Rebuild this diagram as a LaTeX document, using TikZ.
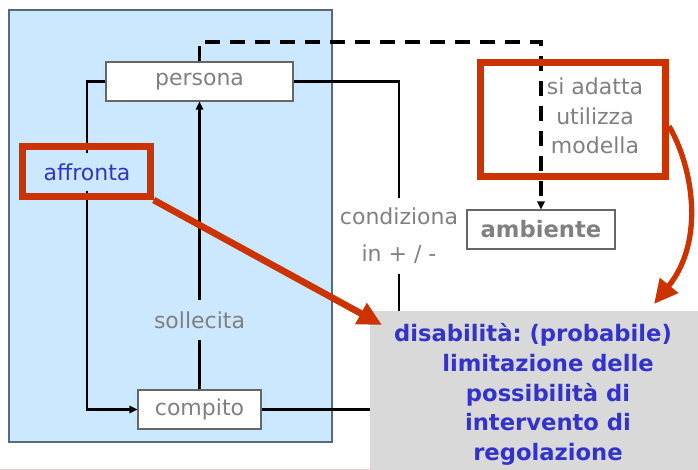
\documentclass[tikz,border=0pt]{standalone}
\usepackage{fontspec}
\setmainfont{DejaVu Sans}
\usetikzlibrary{arrows.meta}
\definecolor{skyfill}{RGB}{204,232,255}
\definecolor{frameedge}{RGB}{90,105,120}
\definecolor{alertred}{RGB}{204,51,0}
\definecolor{inkblue}{RGB}{51,51,204}
\definecolor{labelgray}{RGB}{128,128,128}
\definecolor{panelgray}{RGB}{217,217,217}
\definecolor{rulepink}{RGB}{232,205,205}
\newcommand{\txtsize}{\fontsize{16.5}{22.5}\selectfont}
\frenchspacing

\begin{document}
\begin{tikzpicture}[x=0.75pt,y=-0.75pt,
  box/.style={draw=black!60,line width=0.8pt,fill=white,inner sep=0pt,
    minimum height=29.25pt,text=labelgray,font=\txtsize},
  tag/.style={inner sep=0pt,font=\txtsize,text=labelgray},
  link/.style={line width=1.6pt},
  arr/.style={-{Triangle[length=6pt,width=5.5pt]}},
  dashlink/.style={line width=2.4pt,dash pattern=on 11.25pt off 7.5pt},
  redframe/.style={draw=alertred,line width=5pt,inner sep=0pt},
  redarrow/.style={draw=alertred,line width=5pt,-{Triangle[length=18pt,width=17pt]}}]
  \useasboundingbox (0,0) rectangle (698,470);
  \draw[fill=skyfill,draw=frameedge,line width=0.8pt] (9,10) rectangle (332,442);
  \draw[rulepink,line width=0.8pt] (0,469.5) -- (698,469.5);

  \node[box,minimum width=140.25pt] (persona) at (199.5,81.5) {persona};
  \node[box,minimum width=92.25pt] (compito) at (199.5,409.5) {compito};
  \node[box,minimum width=111pt,font=\fontsize{17}{22.5}\selectfont\bfseries] (ambiente) at (541,229.5) {ambiente};
  \node[tag,text=inkblue,minimum height=28.5pt] (affronta) at (87,172) {affronta};
  \node[tag,minimum height=30pt] (sollecita) at (199.5,320) {sollecita};
  \node[tag,align=center,minimum height=57pt,font=\fontsize{16.5}{27.75}\selectfont]
    (condiziona) at (399,236) {condiziona\\in + / -};
  \node[tag,align=center,font=\fontsize{16.5}{22}\selectfont]
    (adatta) at (595,116) {si adatta\\utilizza\\modella};
  \coordinate (bend) at (541,42);

  \draw[link] (persona.west) -| (affronta.north);
  \draw[link,arr] (affronta.south) |- (compito.west);
  \draw[link] (compito.north) -- (sollecita.south);
  \draw[link,arr] (sollecita.north) -- (persona.south);
  \draw[link] (compito.east) -| (condiziona.south);
  \draw[link] (condiziona.north) |- (persona.east);
  \draw[dashlink,arr] (persona.north) |- (bend) -- (ambiente.north);

  \node[redframe,minimum width=96.3pt,minimum height=37.8pt] (affrontaframe) at (86.5,171.5) {};
  \node[redframe,minimum width=139pt,minimum height=85.8pt] (adattaframe) at (573,119.5) {};

  \node[fill=panelgray,inner sep=0pt,minimum width=246pt,minimum height=119.25pt]
    (panel) at (534,390.5) {};
  \node[font=\fontsize{17}{22.4}\selectfont\bfseries,text=inkblue,align=center,inner sep=0pt]
    (disabilita) at (548,394.5) {disabilità: (probabile)\hspace*{22.5pt}\\limitazione delle\\possibilità di\\intervento di\\regolazione};

  \coordinate (tipA) at (382,325);
  \coordinate (tipB) at (654,304);
  \draw[redarrow] (affrontaframe.-23) -- (tipA);
  \draw[redarrow,line width=4pt] (adattaframe.-4) .. controls (692,165) and (706,240) .. (tipB);
\end{tikzpicture}
\end{document}
